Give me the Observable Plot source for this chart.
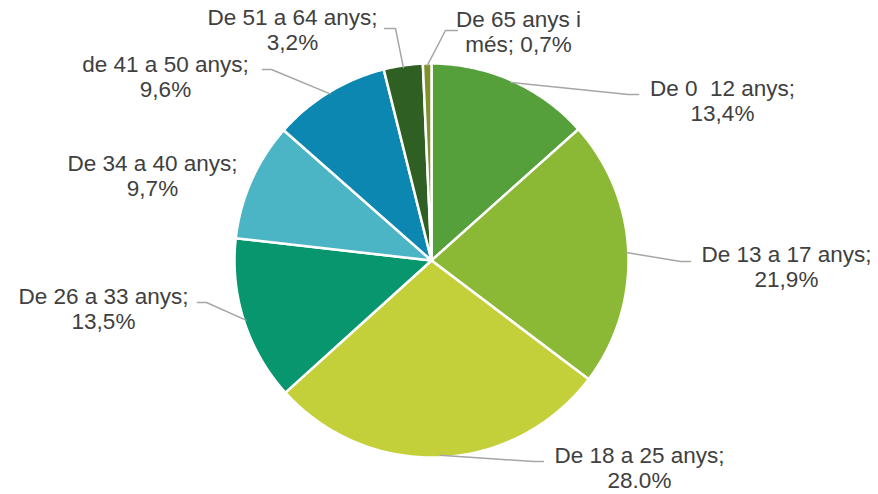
<!DOCTYPE html>
<html>
<head>
<meta charset="utf-8">
<script src="https://cdn.jsdelivr.net/npm/d3@7"></script>
<script src="https://cdn.jsdelivr.net/npm/@observablehq/plot@0.6"></script>
<style>
  html, body { margin: 0; padding: 0; background: #fff; }
  svg text { white-space: pre; }
</style>
</head>
<body>
<div id="chart"></div>
<script>
// ---- data ----
const ageGroups = ["De 0  12 anys", "De 13 a 17 anys", "De 18 a 25 anys", "De 26 a 33 anys",
                   "De 34 a 40 anys", "de 41 a 50 anys", "De 51 a 64 anys", "De 65 anys i més"];
const shares = [13.4, 21.9, 28.0, 13.5, 9.7, 9.6, 3.2, 0.7];
const labelTexts = ["De 0  12 anys;\n13,4%", "De 13 a 17 anys;\n21,9%", "De 18 a 25 anys;\n28.0%",
                    "De 26 a 33 anys;\n13,5%", "De 34 a 40 anys;\n9,7%", "de 41 a 50 anys;\n9,6%",
                    "De 51 a 64 anys;\n3,2%", "De 65 anys i\nmés; 0,7%"];
const colors = ["#55A03A", "#8CB935", "#C4D03A", "#08966F", "#4BB5C5", "#0C87B1", "#2F5F22", "#7E922B"];

// ---- layout (pixels) ----
const W = 878, H = 494;
const cx = 431, cy = 260, R = 197;
// label centre (x, y of middle of block), leader end and elbow (null = no leader)
const labelLayout = [
  {x: 722, y: 100, end: [638, 94], elbow: [628, 94]},
  {x: 786, y: 266, end: [690, 261], elbow: [680, 261]},
  {x: 639, y: 467, end: [543, 461], elbow: [533, 461]},
  {x: 103, y: 308, end: [197, 302], elbow: [206, 302]},
  {x: 152, y: 175, end: null, elbow: null},
  {x: 165, y: 76,  end: [262, 69], elbow: [271, 69]},
  {x: 292, y: 29,  end: [384, 28], elbow: [395, 28]},
  {x: 518, y: 31,  end: [457, 30], elbow: [445, 30]}
];

const total = d3.sum(shares);
const toXY = (a, r) => [cx + r * Math.sin(a), cy - r * Math.cos(a)];

let acc = 0;
const slices = shares.map((v, i) => {
  const a0 = acc / total * 2 * Math.PI;
  acc += v;
  const a1 = acc / total * 2 * Math.PI;
  const n = Math.max(2, Math.ceil((a1 - a0) / (Math.PI / 180)));
  const pts = [[cx, cy]];
  for (let k = 0; k <= n; k++) pts.push(toXY(a0 + (a1 - a0) * k / n, R));
  pts.push([cx, cy]);
  return {name: ageGroups[i], value: v, color: colors[i], a0, a1, mid: (a0 + a1) / 2, pts};
});

const sliceMarks = slices.map(s =>
  Plot.line(s.pts, {x: d => d[0], y: d => d[1], fill: s.color, stroke: "#fff",
                    strokeWidth: 2.5, strokeLinejoin: "round", curve: "linear-closed"})
);

const leaderData = [];
slices.forEach((s, i) => {
  const L = labelLayout[i];
  if (!L.end) return;
  const start = toXY(s.mid, R - 2);
  [start, L.elbow, L.end].forEach(p => leaderData.push({k: i, x: p[0], y: p[1]}));
});

const labelData = slices.map((s, i) => ({text: labelTexts[i], x: labelLayout[i].x, y: labelLayout[i].y}));

const chart = Plot.plot({
  width: W, height: H,
  margin: 0, marginTop: 0, marginRight: 0, marginBottom: 0, marginLeft: 0,
  x: {domain: [0, W], range: [0, W], axis: null},
  y: {domain: [0, H], range: [0, H], axis: null},
  style: {fontFamily: "'Liberation Sans', Arial, sans-serif", background: "#fff"},
  marks: [
    ...sliceMarks,
    Plot.line(leaderData, {x: "x", y: "y", z: "k", stroke: "#A6A6A6", strokeWidth: 1.5}),
    Plot.text(labelData, {x: "x", y: "y", text: "text", fontSize: 22.5, fill: "#404040",
                          textAnchor: "middle", lineAnchor: "middle", lineHeight: 1.12})
  ]
});
document.getElementById("chart").appendChild(chart);
</script>
</body>
</html>
